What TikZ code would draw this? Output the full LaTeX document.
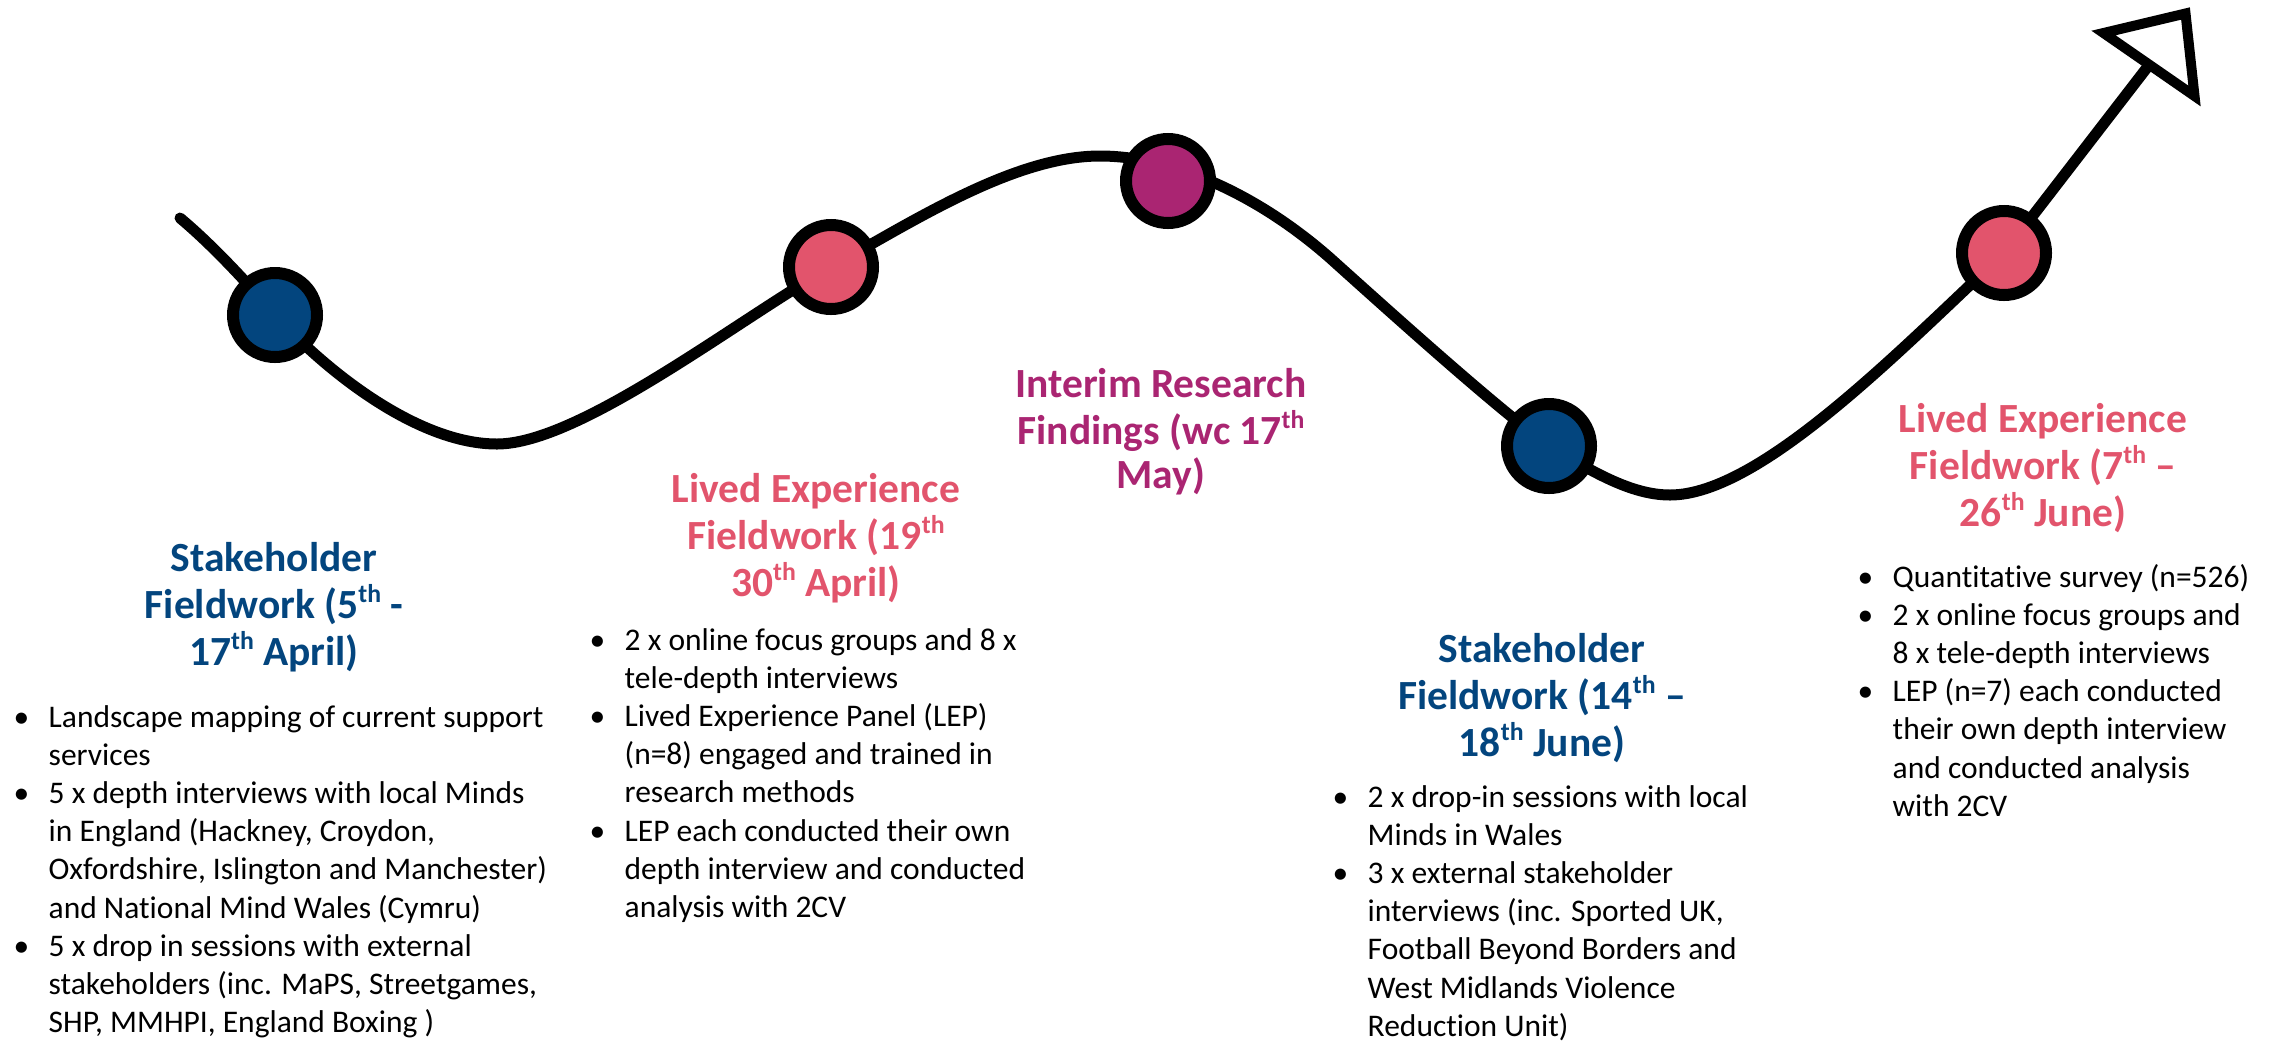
\documentclass[tikz,border=0pt]{standalone}
\usepackage{fontspec}
\setmainfont{Carlito}[Ligatures=NoCommon]
\definecolor{myblue}{HTML}{03457E}
\definecolor{mypink}{HTML}{E2546C}
\definecolor{mypurple}{HTML}{AA2572}
\newcommand\sups[1]{\raisebox{0.38em}{\scalebox{0.62}{#1}}}
\newcommand\bl{\makebox[35pt][l]{\textbullet}}
\tikzset{
  milestone/.style={circle, draw=black, line width=12pt, minimum size=84pt, inner sep=0pt},
  roadline/.style={line width=11pt, line cap=round, line join=round},
  head/.style={inner sep=0pt, anchor=base, font=\bfseries\fontsize{41.5}{44.5}\selectfont},
  bullist/.style={inner sep=0pt, anchor=base west, font=\fontsize{31.5}{38.2}\selectfont},
}
\begin{document}
\begin{tikzpicture}[x=1pt,y=-1pt]
\useasboundingbox (0,0) rectangle (2277,1045);
% path coordinates
\coordinate (s) at (180,218);
\coordinate (p1) at (275,315);
\coordinate (m1) at (497,444);
\coordinate (p2) at (831,267);
\coordinate (pk) at (1100,156);
\coordinate (p3) at (1168,181);
\coordinate (q) at (1330,258);
\coordinate (p4) at (1549,446);
\coordinate (m2) at (1670,495);
\coordinate (p5) at (2004,253);
\coordinate (ab) at (2149,65);
% the road
\draw[roadline] (s) .. controls (210,243) and (245,280) .. (p1)
  .. controls (330,375) and (420,444) .. (m1)
  .. controls (580,444) and (740,318) .. (p2)
  .. controls (915,220) and (1015,156) .. (pk)
  .. controls (1170,156) and (1255,192) .. (q)
  .. controls (1420,339) and (1500,410) .. (p4)
  .. controls (1590,470) and (1630,495) .. (m2)
  .. controls (1760,495) and (1900,350) .. (p5)
  -- (ab);
% open triangle arrow head
\draw[line width=10pt, fill=white, line join=miter] (2103.5,33) -- (2185.5,13.5) -- (2194.5,96) -- cycle;
% milestones
\node[milestone, fill=myblue] (n1) at (p1) {};
\node[milestone, fill=mypink] (n2) at (p2) {};
\node[milestone, fill=mypurple] (n3) at (p3) {};
\node[milestone, fill=myblue] (n4) at (p4) {};
\node[milestone, fill=mypink] (n5) at (p5) {};
% headings
\node[head, text=myblue] (h1) at (274,571) {\begin{tabular}[t]{@{}c@{}}Stakeholder\\Fieldwork (5\sups{th} -\\17\sups{th} April)\end{tabular}};
\node[head, text=mypink] (h2) at (816,502) {\begin{tabular}[t]{@{}c@{}}Lived Experience\\Fieldwork (19\sups{th}\\30\sups{th} April)\end{tabular}};
\node[head, text=mypurple] (h3) at (1161,397) {\begin{tabular}[t]{@{}c@{}}Interim Research\\Findings (wc 17\sups{th}\\May)\end{tabular}};
\node[head, text=myblue] (h4) at (1542,662) {\begin{tabular}[t]{@{}c@{}}Stakeholder\\Fieldwork (14\sups{th} --\\18\sups{th} June)\end{tabular}};
\node[head, text=mypink] (h5) at (2043,432) {\begin{tabular}[t]{@{}c@{}}Lived Experience\\Fieldwork (7\sups{th} --\\26\sups{th} June)\end{tabular}};
% bullet lists
\node[bullist] (l1) at (13.5,727) {\begin{tabular}[t]{@{}l@{}l@{}}
\bl & Landscape mapping of current support\\
 & services\\
\bl & 5 x depth interviews with local Minds\\
 & in England (Hackney, Croydon,\\
 & Oxfordshire, Islington and Manchester)\\
 & and National Mind Wales (Cymru)\\
\bl & 5 x drop in sessions with external\\
 & stakeholders (inc. MaPS, Streetgames,\\
 & SHP, MMHPI, England Boxing )
\end{tabular}};
\node[bullist] (l2) at (589.5,650) {\begin{tabular}[t]{@{}l@{}l@{}}
\bl & 2 x online focus groups and 8 x\\
 & tele-depth interviews\\
\bl & Lived Experience Panel (LEP)\\
 & (n=8) engaged and trained in\\
 & research methods\\
\bl & LEP each conducted their own\\
 & depth interview and conducted\\
 & analysis with 2CV
\end{tabular}};
\node[bullist] (l4) at (1332.5,807) {\begin{tabular}[t]{@{}l@{}l@{}}
\bl & 2 x drop-in sessions with local\\
 & Minds in Wales\\
\bl & 3 x external stakeholder\\
 & interviews (inc. Sported UK,\\
 & Football Beyond Borders and\\
 & West Midlands Violence\\
 & Reduction Unit)
\end{tabular}};
\node[bullist] (l5) at (1857.5,587) {\begin{tabular}[t]{@{}l@{}l@{}}
\bl & Quantitative survey (n=526)\\
\bl & 2 x online focus groups and\\
 & 8 x tele-depth interviews\\
\bl & LEP (n=7) each conducted\\
 & their own depth interview\\
 & and conducted analysis\\
 & with 2CV
\end{tabular}};
\end{tikzpicture}
\end{document}
